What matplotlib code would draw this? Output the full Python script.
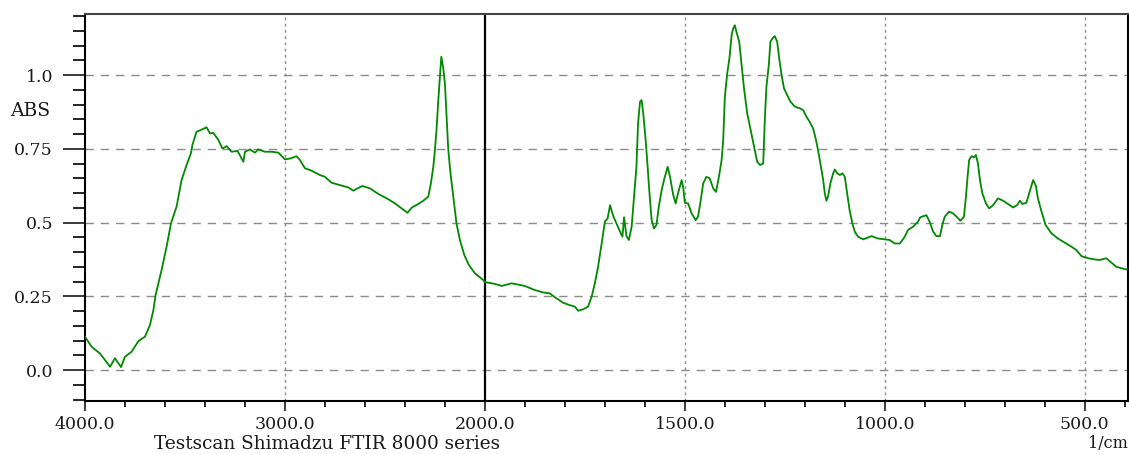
import numpy as np
import matplotlib
matplotlib.use("Agg")
import matplotlib.pyplot as plt
from matplotlib.ticker import FixedLocator, NullFormatter

# FTIR absorbance spectrum (wavenumber in 1/cm, absorbance)
wavenumber = [
    4000, 3967, 3925, 3900, 3875, 3850, 3820, 3800, 3767, 3733, 3700, 3675,
    3658, 3647, 3617, 3592, 3570, 3542, 3517, 3492, 3470, 3463, 3442, 3420,
    3392, 3375, 3358, 3333, 3313, 3292, 3267, 3237, 3208, 3200, 3175, 3150,
    3133, 3100, 3067, 3033, 3000, 2975, 2942, 2925, 2900, 2867, 2825, 2800,
    2767, 2725, 2683, 2658, 2637, 2613, 2575, 2533, 2483, 2450, 2417, 2387,
    2367, 2333, 2308, 2283, 2270, 2258, 2250, 2242, 2233, 2225, 2218, 2208,
    2200, 2192, 2183, 2172, 2158, 2142, 2125, 2103, 2080, 2050, 2008, 2000,
    1975, 1958, 1933, 1900, 1875, 1854, 1838, 1821, 1804, 1788, 1775, 1767,
    1754, 1742, 1733, 1725, 1717, 1708, 1700, 1693, 1687, 1679, 1671, 1662,
    1656, 1652, 1646, 1640, 1633, 1627, 1621, 1617, 1612, 1608, 1604, 1598,
    1593, 1589, 1583, 1577, 1571, 1565, 1558, 1550, 1543, 1537, 1529, 1523,
    1517, 1508, 1504, 1500, 1492, 1483, 1473, 1467, 1462, 1454, 1446, 1438,
    1429, 1422, 1414, 1408, 1404, 1400, 1394, 1388, 1383, 1379, 1375, 1371,
    1364, 1358, 1352, 1344, 1338, 1332, 1325, 1319, 1312, 1304, 1300, 1296,
    1290, 1286, 1281, 1275, 1269, 1264, 1258, 1252, 1244, 1236, 1225, 1212,
    1204, 1196, 1188, 1179, 1172, 1167, 1161, 1154, 1150, 1146, 1142, 1136,
    1129, 1125, 1119, 1112, 1106, 1100, 1094, 1088, 1081, 1075, 1067, 1054,
    1033, 1017, 1000, 988, 975, 962, 950, 942, 929, 917, 911, 896, 888, 879,
    871, 862, 856, 850, 839, 829, 819, 811, 802, 797, 793, 789, 783, 777,
    772, 767, 762, 756, 747, 739, 729, 717, 704, 692, 679, 669, 662, 656,
    646, 639, 633, 629, 622, 617, 608, 598, 583, 567, 550, 533, 521, 508,
    492, 475, 463, 446, 433, 421, 408, 395,
]
absorbance = [
    0.113, 0.079, 0.056, 0.034, 0.011, 0.040, 0.010, 0.045, 0.062, 0.098, 0.113, 0.153,
    0.203, 0.254, 0.339, 0.418, 0.497, 0.554, 0.644, 0.695, 0.735, 0.763, 0.808, 0.814,
    0.823, 0.802, 0.804, 0.780, 0.751, 0.759, 0.740, 0.743, 0.706, 0.740, 0.748, 0.737,
    0.748, 0.740, 0.740, 0.737, 0.714, 0.717, 0.725, 0.712, 0.684, 0.676, 0.661, 0.655,
    0.635, 0.627, 0.619, 0.608, 0.616, 0.624, 0.616, 0.597, 0.579, 0.565, 0.548, 0.533,
    0.550, 0.563, 0.574, 0.588, 0.633, 0.689, 0.746, 0.814, 0.915, 0.994, 1.062, 1.022,
    0.972, 0.864, 0.746, 0.667, 0.588, 0.497, 0.441, 0.390, 0.356, 0.328, 0.305, 0.298,
    0.292, 0.285, 0.294, 0.285, 0.271, 0.263, 0.260, 0.243, 0.228, 0.220, 0.215, 0.201,
    0.206, 0.215, 0.249, 0.294, 0.350, 0.429, 0.503, 0.514, 0.559, 0.522, 0.497, 0.469,
    0.452, 0.518, 0.454, 0.441, 0.486, 0.588, 0.689, 0.836, 0.910, 0.915, 0.870, 0.780,
    0.689, 0.610, 0.508, 0.480, 0.492, 0.554, 0.610, 0.655, 0.689, 0.655, 0.593, 0.565,
    0.599, 0.644, 0.619, 0.567, 0.565, 0.531, 0.508, 0.520, 0.560, 0.633, 0.655, 0.650,
    0.616, 0.604, 0.661, 0.712, 0.780, 0.926, 1.005, 1.062, 1.136, 1.158, 1.169, 1.147,
    1.113, 1.034, 0.955, 0.870, 0.831, 0.791, 0.746, 0.706, 0.695, 0.700, 0.847, 0.960,
    1.034, 1.113, 1.124, 1.132, 1.113, 1.056, 1.000, 0.955, 0.932, 0.910, 0.893, 0.887,
    0.881, 0.859, 0.842, 0.819, 0.780, 0.746, 0.700, 0.644, 0.599, 0.574, 0.588, 0.633,
    0.667, 0.680, 0.667, 0.661, 0.667, 0.655, 0.599, 0.542, 0.497, 0.469, 0.452, 0.443,
    0.454, 0.446, 0.443, 0.441, 0.429, 0.429, 0.452, 0.475, 0.486, 0.503, 0.518, 0.525, 0.503, 0.469,
    0.454, 0.454, 0.492, 0.520, 0.537, 0.531, 0.518, 0.506, 0.520, 0.588, 0.655, 0.712, 0.725, 0.721,
    0.729, 0.700, 0.644, 0.599, 0.565, 0.548, 0.559, 0.582, 0.574, 0.563, 0.551, 0.559, 0.574, 0.563,
    0.567, 0.599, 0.627, 0.644, 0.624, 0.582, 0.537, 0.492, 0.463, 0.446, 0.432, 0.418, 0.407, 0.386,
    0.379, 0.375, 0.373, 0.379, 0.364, 0.350, 0.345, 0.341,
]

x_major = [4000, 3000, 2000, 1500, 1000, 500]
x_minor = [3800, 3600, 3400, 3200, 2800, 2600, 2400, 2200,
           1900, 1800, 1700, 1600, 1400, 1300, 1200, 1100,
           900, 800, 700, 600, 400]
y_major = [0.0, 0.25, 0.5, 0.75, 1.0]
y_labels = ["0.0", "0.25", "0.5", "0.75", "1.0"]


# wavenumber axis: 4000-2000 compressed, 2000-400 expanded twice as much
def fwd(x):
    x = np.asarray(x, dtype=float)
    return np.where(x >= 2000, (x - 2000) / 5.0, (x - 2000) / 2.5)


def inv(u):
    u = np.asarray(u, dtype=float)
    return np.where(u >= 0, 2000 + u * 5.0, 2000 + u * 2.5)


plt.rcParams['font.family'] = ['DejaVu Serif']

fig = plt.figure(figsize=(11.29, 4.54), dpi=100)
ax = fig.add_axes([85 / 1129, 1 - 401 / 454, 1042.5 / 1129, 387 / 454])
ax.set_xscale('function', functions=(fwd, inv))

ax.plot(wavenumber, absorbance, color='#008a00', lw=1.3, zorder=3)

ax.set_xlim(4000, 393)
ax.set_ylim(-0.105, 1.207)

# grid
for v in y_major:
    ax.axhline(v, color='#8c8c8c', lw=1.0, ls=(0, (6, 5)), zorder=1)
for v in [3000, 1500, 1000, 500]:
    ax.axvline(v, color='#8c8c8c', lw=1.0, ls=(0, (2, 2.5)), zorder=1)
ax.axvline(2000, color='black', lw=1.6, zorder=2)

ax.xaxis.set_major_locator(FixedLocator(x_major))
ax.xaxis.set_minor_locator(FixedLocator(x_minor))
ax.set_xticklabels([f"{v:.1f}" for v in x_major])
ax.xaxis.set_minor_formatter(NullFormatter())

y_minor = [round(v, 2) for v in np.arange(-0.1, 1.21, 0.05)
           if not any(abs(v - m) < 1e-6 for m in y_major)]
ax.yaxis.set_major_locator(FixedLocator(y_major))
ax.yaxis.set_minor_locator(FixedLocator(y_minor))
ax.set_yticklabels(y_labels)
ax.yaxis.set_minor_formatter(NullFormatter())

ax.tick_params(axis='x', which='major', length=7.5, width=1.2, pad=3,
               labelsize=12.5, colors='#1a1a1a')
ax.tick_params(axis='x', which='minor', length=4, width=1.2)
ax.tick_params(axis='y', which='major', length=16, width=1.2, pad=7,
               labelsize=12.5, colors='#1a1a1a')
ax.tick_params(axis='y', which='minor', length=8.5, width=1.2)

for side in ['left', 'bottom', 'right']:
    ax.spines[side].set_linewidth(1.5)
    ax.spines[side].set_color('black')
ax.spines['top'].set_linewidth(1.5)
ax.spines['top'].set_color('#444444')

fig.text(10 / 1129, 1 - 111 / 454, "ABS", fontsize=13.5, va='center', ha='left',
         color='#1a1a1a')
fig.text(154 / 1129, 1 - 444 / 454, "Testscan Shimadzu FTIR 8000 series",
         fontsize=13.3, va='center', ha='left', color='#1a1a1a')
fig.text(1128 / 1129, 1 - 444 / 454, "1/cm", fontsize=11.5, va='center',
         ha='right', color='#1a1a1a')

fig.savefig("out.png", dpi=100)
